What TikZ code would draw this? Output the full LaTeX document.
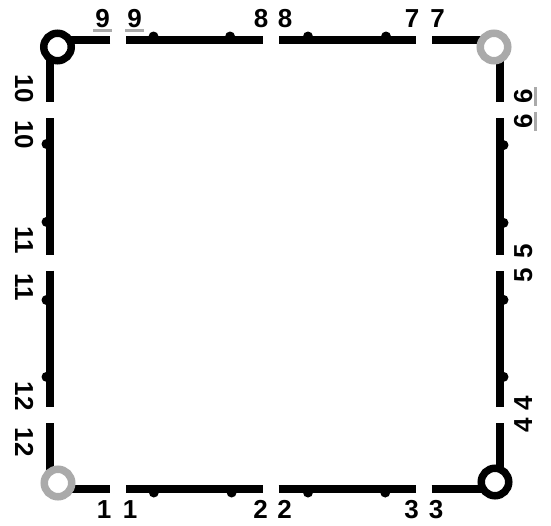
\documentclass[tikz,border=0pt]{standalone}
\usepackage{fontspec}
\setmainfont{Liberation Sans}
\usepackage{xcolor}
\usepackage{tikz}

\definecolor{ringgray}{RGB}{170,170,170}
\newsavebox{\digitbox}
\newcommand{\barred}[1]{\sbox{\digitbox}{#1}\rlap{\kern-2pt\textcolor{ringgray}{\rule[-5.3pt]{\dimexpr\wd\digitbox+4pt\relax}{3pt}}}\usebox{\digitbox}}

\begin{document}
\begin{tikzpicture}[x=1pt, y=-1pt,
		track/.style={line width=7.5pt},
		ring/.style={circle, draw=black, line width=7.5pt, fill=white, minimum size=27.5pt, inner sep=0pt},
		bump/.style={circle, fill=black, inner sep=0pt, minimum size=10pt},
		num/.style={font=\bfseries\fontsize{26}{26}\selectfont, inner sep=0pt, anchor=base}]
		\useasboundingbox (0,0) rectangle (551,525);
		% corners and gaps
		\coordinate (nw) at (50,40);
		\coordinate (ne) at (500,40);
		\coordinate (se) at (500,489);
		\coordinate (sw) at (50,489);
		\coordinate (g1) at (118,489);
		\coordinate (g2) at (270.5,489);
		\coordinate (g3) at (423.5,489);
		\coordinate (g4) at (500,415);
		\coordinate (g5) at (500,262.5);
		\coordinate (g6) at (500,110);
		\coordinate (g7) at (423.5,40);
		\coordinate (g8) at (270.5,40);
		\coordinate (g9) at (118,40);
		\coordinate (g10) at (50,110);
		\coordinate (g11) at (50,262.5);
		\coordinate (g12) at (50,415);
		% bottom side
		\draw[track, shorten >=8pt] (sw) -- (g1);
		\draw[track, shorten <=8pt, shorten >=8pt] (g1) -- node[bump, yshift=-3.5pt, pos=.235] (b1) {} node[bump, yshift=-3.5pt, pos=.745] (b2) {} (g2);
		\draw[track, shorten <=8pt, shorten >=8pt] (g2) -- node[bump, yshift=-3.5pt, pos=.245] (b3) {} node[bump, yshift=-3.5pt, pos=.75] (b4) {} (g3);
		\draw[track, shorten <=8pt] (g3) -- (se);
		% right side
		\draw[track, shorten >=8pt] (se) -- (g4);
		\draw[track, shorten <=8pt, shorten >=8pt] (g4) -- node[bump, xshift=3.5pt, pos=.25] (b5) {} node[bump, xshift=3.5pt, pos=.755] (b6) {} (g5);
		\draw[track, shorten <=8pt, shorten >=8pt] (g5) -- node[bump, xshift=3.5pt, pos=.26] (b7) {} node[bump, xshift=3.5pt, pos=.77] (b8) {} (g6);
		\draw[track, shorten <=8pt] (g6) -- (ne);
		% top side
		\draw[track, shorten >=8pt] (ne) -- (g7);
		\draw[track, shorten <=8pt, shorten >=8pt] (g7) -- node[bump, yshift=3.5pt, pos=.245] (b9) {} node[bump, yshift=3.5pt, pos=.755] (b10) {} (g8);
		\draw[track, shorten <=8pt, shorten >=8pt] (g8) -- node[bump, yshift=3.5pt, pos=.265] (b11) {} node[bump, yshift=3.5pt, pos=.767] (b12) {} (g9);
		\draw[track, shorten <=8pt] (g9) -- (nw);
		% left side
		\draw[track, shorten >=8pt] (nw) -- (g10);
		\draw[track, shorten <=8pt, shorten >=8pt] (g10) -- node[bump, xshift=-3.5pt, pos=.223] (b13) {} node[bump, xshift=-3.5pt, pos=.734] (b14) {} (g11);
		\draw[track, shorten <=8pt, shorten >=8pt] (g11) -- node[bump, xshift=-3.5pt, pos=.246] (b15) {} node[bump, xshift=-3.5pt, pos=.75] (b16) {} (g12);
		\draw[track, shorten <=8pt] (g12) -- (sw);
		% corner rings
		\node[ring] (rnw) at (57.5,47) {};
		\node[ring, draw=ringgray] (rne) at (494,47) {};
		\node[ring] (rse) at (495,482) {};
		\node[ring, draw=ringgray] (rsw) at (58,483) {};
		% numbers
		\node[num] (n1a) at (104,518) {1};
		\node[num] (n1b) at (130,518) {1};
		\node[num] (n2a) at (260.5,518) {2};
		\node[num] (n2b) at (284.5,518) {2};
		\node[num] (n3a) at (411.5,518) {3};
		\node[num] (n3b) at (436,518) {3};
		\node[num, rotate=90] (n4a) at (532,425.5) {4};
		\node[num, rotate=90] (n4b) at (532,403.5) {4};
		\node[num, rotate=90] (n5a) at (532,275) {5};
		\node[num, rotate=90] (n5b) at (532,251.5) {5};
		\node[num, rotate=90] (n6a) at (532,121.5) {\barred{6}};
		\node[num, rotate=90] (n6b) at (532,96.5) {\barred{6}};
		\node[num] (n7a) at (437.5,27) {7};
		\node[num] (n7b) at (412,27) {7};
		\node[num] (n8a) at (285,27) {8};
		\node[num] (n8b) at (261,27) {8};
		\node[num] (n9a) at (134.5,27) {\barred{9}};
		\node[num] (n9b) at (102.5,27) {\barred{9}};
		\node[num, rotate=-90] (n10a) at (15,88.5) {10};
		\node[num, rotate=-90] (n10b) at (15,135) {10};
		\node[num, rotate=-90] (n11a) at (15,240.5) {11};
		\node[num, rotate=-90] (n11b) at (15,287.5) {11};
		\node[num, rotate=-90] (n12a) at (15,396) {12};
		\node[num, rotate=-90] (n12b) at (15,442) {12};
	\end{tikzpicture}
\end{document}
